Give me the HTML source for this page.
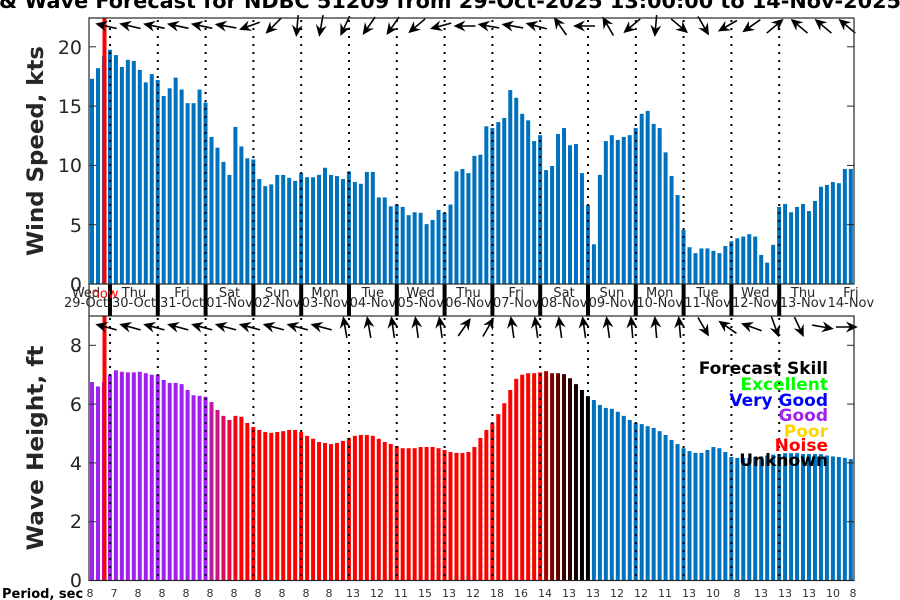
<!DOCTYPE html>
<html><head><meta charset="utf-8"><style>
html,body{margin:0;padding:0;background:#fff;}
svg{display:block;font-family:"DejaVu Sans","Liberation Sans",sans-serif;}
</style></head><body>
<svg id="s" width="900" height="600" viewBox="0 0 900 600" xmlns="http://www.w3.org/2000/svg">
<rect width="900" height="600" fill="#fff"/>
<g id="bars"></g>
<g id="dots"></g>
<rect x="102.5" y="18" width="4" height="266" fill="#ff0000"/>
<rect x="102.5" y="316" width="4" height="264.5" fill="#ff0000"/>
<g id="arrows"></g>
<g id="axes" fill="none" stroke="#262626" stroke-width="1.2">
<rect x="89" y="18" width="765" height="266"/>
<rect x="89" y="316" width="765" height="264.5"/>
<line x1="89" y1="284" x2="89" y2="316"/>
</g>
<g id="ticks" stroke="#262626" stroke-width="1"></g>
<text x="-1" y="8" font-weight="bold" font-size="20" fill="#000" textLength="902" lengthAdjust="spacingAndGlyphs">&amp; Wave Forecast for NDBC 51209 from 29-Oct-2025 13:00:00 to 14-Nov-2025</text>
<g font-size="19" fill="#262626" text-anchor="end">
<text x="82" y="291">0</text><text x="82" y="232">5</text><text x="82" y="172">10</text><text x="82" y="113">15</text><text x="82" y="54">20</text>
<text x="82" y="587">0</text><text x="82" y="528">2</text><text x="82" y="470">4</text><text x="82" y="411">6</text><text x="82" y="352">8</text>
</g>
<text transform="translate(43,151) rotate(-90)" text-anchor="middle" font-weight="bold" font-size="22" fill="#262626" textLength="210" lengthAdjust="spacingAndGlyphs">Wind Speed, kts</text>
<text transform="translate(43,448) rotate(-90)" text-anchor="middle" font-weight="bold" font-size="22" fill="#262626" textLength="205" lengthAdjust="spacingAndGlyphs">Wave Height, ft</text>
<g font-size="13" fill="#262626" text-anchor="middle">
<text x="86" y="297">Wed</text><text x="86" y="307">29-Oct</text>
<text x="134" y="297">Thu</text><text x="134" y="307">30-Oct</text>
<text x="182" y="297">Fri</text><text x="182" y="307">31-Oct</text>
<text x="229.5" y="297">Sat</text><text x="229.5" y="307">01-Nov</text>
<text x="277.3" y="297">Sun</text><text x="277.3" y="307">02-Nov</text>
<text x="325.1" y="297">Mon</text><text x="325.1" y="307">03-Nov</text>
<text x="372.9" y="297">Tue</text><text x="372.9" y="307">04-Nov</text>
<text x="420.7" y="297">Wed</text><text x="420.7" y="307">05-Nov</text>
<text x="468.5" y="297">Thu</text><text x="468.5" y="307">06-Nov</text>
<text x="516.3" y="297">Fri</text><text x="516.3" y="307">07-Nov</text>
<text x="564.1" y="297">Sat</text><text x="564.1" y="307">08-Nov</text>
<text x="611.9" y="297">Sun</text><text x="611.9" y="307">09-Nov</text>
<text x="659.7" y="297">Mon</text><text x="659.7" y="307">10-Nov</text>
<text x="707.5" y="297">Tue</text><text x="707.5" y="307">11-Nov</text>
<text x="755.3" y="297">Wed</text><text x="755.3" y="307">12-Nov</text>
<text x="803.1" y="297">Thu</text><text x="803.1" y="307">13-Nov</text>
<text x="850.9" y="297">Fri</text><text x="850.9" y="307">14-Nov</text>
</g>
<text x="105" y="298" font-size="13" fill="#ff0000" text-anchor="middle">now</text>
<g font-size="11" fill="#333" text-anchor="middle">
<text x="90" y="597">8</text><text x="114" y="597">7</text><text x="138" y="597">8</text><text x="162" y="597">8</text><text x="186" y="597">8</text><text x="210" y="597">8</text><text x="234" y="597">8</text><text x="258" y="597">8</text><text x="282" y="597">8</text><text x="306" y="597">8</text><text x="329" y="597">8</text>
<text x="353" y="597">13</text><text x="377" y="597">12</text><text x="401" y="597">11</text><text x="425" y="597">15</text><text x="449" y="597">13</text><text x="473" y="597">12</text><text x="497" y="597">18</text><text x="521" y="597">16</text><text x="545" y="597">14</text><text x="569" y="597">13</text><text x="593" y="597">13</text>
<text x="617" y="597">12</text><text x="641" y="597">12</text><text x="665" y="597">11</text><text x="689" y="597">13</text><text x="713" y="597">10</text><text x="737" y="597">8</text><text x="761" y="597">13</text><text x="785" y="597">13</text><text x="809" y="597">13</text><text x="833" y="597">10</text><text x="853" y="597">8</text>
</g>
<text x="2" y="598" font-weight="bold" font-size="13" fill="#000">Period, sec</text>
<g font-weight="bold" font-size="17" text-anchor="end">
<text x="828" y="374" fill="#000">Forecast Skill</text>
<text x="828" y="390" fill="#00ff00">Excellent</text>
<text x="828" y="406" fill="#0000ff">Very Good</text>
<text x="828" y="421" fill="#a020f0">Good</text>
<text x="828" y="437" fill="#ffd700">Poor</text>
<text x="828" y="451" fill="#ff0000">Noise</text>
<text x="828" y="466" fill="#000">Unknown</text>
</g>
</svg>
<script>
(function(){
var NS="http://www.w3.org/2000/svg";
function el(p,t,a){var e=document.createElementNS(NS,t);for(var k in a)e.setAttribute(k,a[k]);p.appendChild(e);return e;}
var wind=[17.3,18.2,19.25,19.75,19.3,18.3,18.9,18.8,18.05,17.0,17.7,17.2,15.85,16.5,17.4,16.4,15.25,15.25,16.4,15.3,12.4,11.5,10.3,9.2,13.25,11.6,10.6,10.5,8.85,8.25,8.4,9.2,9.2,8.95,8.7,9.35,9.0,9.0,9.2,9.8,9.2,9.1,8.85,9.5,8.6,8.45,9.45,9.45,7.3,7.3,6.55,6.7,6.5,5.8,6.05,6.0,5.05,5.4,6.25,6.0,6.7,9.5,9.7,9.35,10.8,10.9,13.3,13.15,13.65,14.0,16.35,15.7,14.35,13.8,12.05,12.55,9.6,9.95,12.65,13.15,11.7,11.8,9.35,6.65,3.35,9.2,12.05,12.55,12.15,12.4,12.55,13.15,14.35,14.6,13.5,13.15,11.1,9.1,7.5,4.55,3.1,2.6,3.0,3.0,2.8,2.6,3.2,3.6,3.85,4.0,4.2,4.0,2.45,1.8,3.3,6.5,6.75,6.05,6.5,6.75,6.15,7.0,8.2,8.35,8.6,8.5,9.7,9.7];
var wave=[6.75,6.6,6.75,7.0,7.15,7.1,7.08,7.08,7.1,7.05,7.0,7.0,6.82,6.72,6.72,6.68,6.48,6.3,6.28,6.25,6.07,5.8,5.6,5.46,5.6,5.57,5.36,5.22,5.12,5.05,5.02,5.05,5.08,5.12,5.12,5.05,4.92,4.82,4.71,4.68,4.64,4.68,4.75,4.85,4.92,4.95,4.95,4.92,4.82,4.71,4.64,4.57,4.5,4.5,4.5,4.54,4.54,4.54,4.5,4.44,4.37,4.34,4.34,4.37,4.54,4.85,5.12,5.36,5.66,6.03,6.48,6.86,7.0,7.05,7.05,7.08,7.12,7.05,7.05,7.02,6.88,6.68,6.48,6.27,6.14,5.97,5.87,5.84,5.74,5.6,5.46,5.36,5.32,5.25,5.19,5.08,4.95,4.78,4.64,4.5,4.4,4.34,4.34,4.44,4.54,4.5,4.37,4.2,4.17,4.17,4.17,4.2,4.22,4.25,4.28,4.3,4.33,4.33,4.33,4.3,4.3,4.3,4.3,4.25,4.22,4.2,4.17,4.13];
function wcol(i){
 if(i<=19)return"#a020f0";
 var tr={20:"#c0189f",21:"#cc1480",22:"#dc0c5c",23:"#e8083c",24:"#f50418"};
 if(tr[i])return tr[i];
 if(i<=75)return"#ff0000";
 var dk={76:"#a00000",77:"#800000",78:"#600000",79:"#400000",80:"#2a0000",81:"#120000",82:"#000",83:"#000"};
 if(dk[i])return dk[i];
 return"#0072bd";
}
var b=document.getElementById("bars");
for(var i=0;i<128;i++){
 var x=92+5.975*i-2;
 var h=wind[i]*11.86;
 el(b,"rect",{x:x.toFixed(2),y:(284-h).toFixed(2),width:4,height:h.toFixed(2),fill:"#0072bd"});
 var h2=wave[i]*29.4;
 el(b,"rect",{x:x.toFixed(2),y:(580.5-h2).toFixed(2),width:4,height:h2.toFixed(2),fill:wcol(i)});
}
var d=document.getElementById("dots"),t=document.getElementById("ticks");
for(var k=0;k<15;k++){
 var xx=110+47.8*k;
 el(d,"line",{x1:xx,y1:20,x2:xx,y2:284,stroke:"#000","stroke-width":2,"stroke-dasharray":"2 6"});
 el(d,"line",{x1:xx,y1:318,x2:xx,y2:580,stroke:"#000","stroke-width":2,"stroke-dasharray":"2 6"});
 el(d,"rect",{x:xx-2,y:284,width:4,height:32,fill:"#000"});
}
[284,224.7,165.4,106.1,46.8].forEach(function(y){el(t,"line",{x1:89,y1:y,x2:96,y2:y});el(t,"line",{x1:847,y1:y,x2:854,y2:y});});
[580.5,521.7,462.9,404.1,345.3].forEach(function(y){el(t,"line",{x1:89,y1:y,x2:96,y2:y});el(t,"line",{x1:847,y1:y,x2:854,y2:y});});
var topA=[193,193,192,192,192,190,160,135,95,100,115,125,125,140,165,180,190,190,195,235,180,240,140,95,40,60,150,145,-40,220,220,220];
var botA=[195,195,195,195,195,195,195,195,195,195,260,260,262,262,262,305,300,262,262,262,262,262,265,265,265,60,215,200,70,65,10,0];
var a=document.getElementById("arrows");
function arrow(cx,cy,ang){
 var g=el(a,"g",{transform:"translate("+cx.toFixed(1)+","+cy+") rotate("+ang+")"});
 el(g,"line",{x1:-11,y1:0,x2:8,y2:0,stroke:"#000","stroke-width":1.6});
 el(g,"polygon",{points:"11,0 -1,-5.5 3,0 -1,5.5",fill:"#000"});
}
for(var k=0;k<32;k++){
 var cx=106+23.9*k;
 arrow(cx,26,topA[k]);
 arrow(cx,327,botA[k]);
}
})();
</script>
</body></html>
